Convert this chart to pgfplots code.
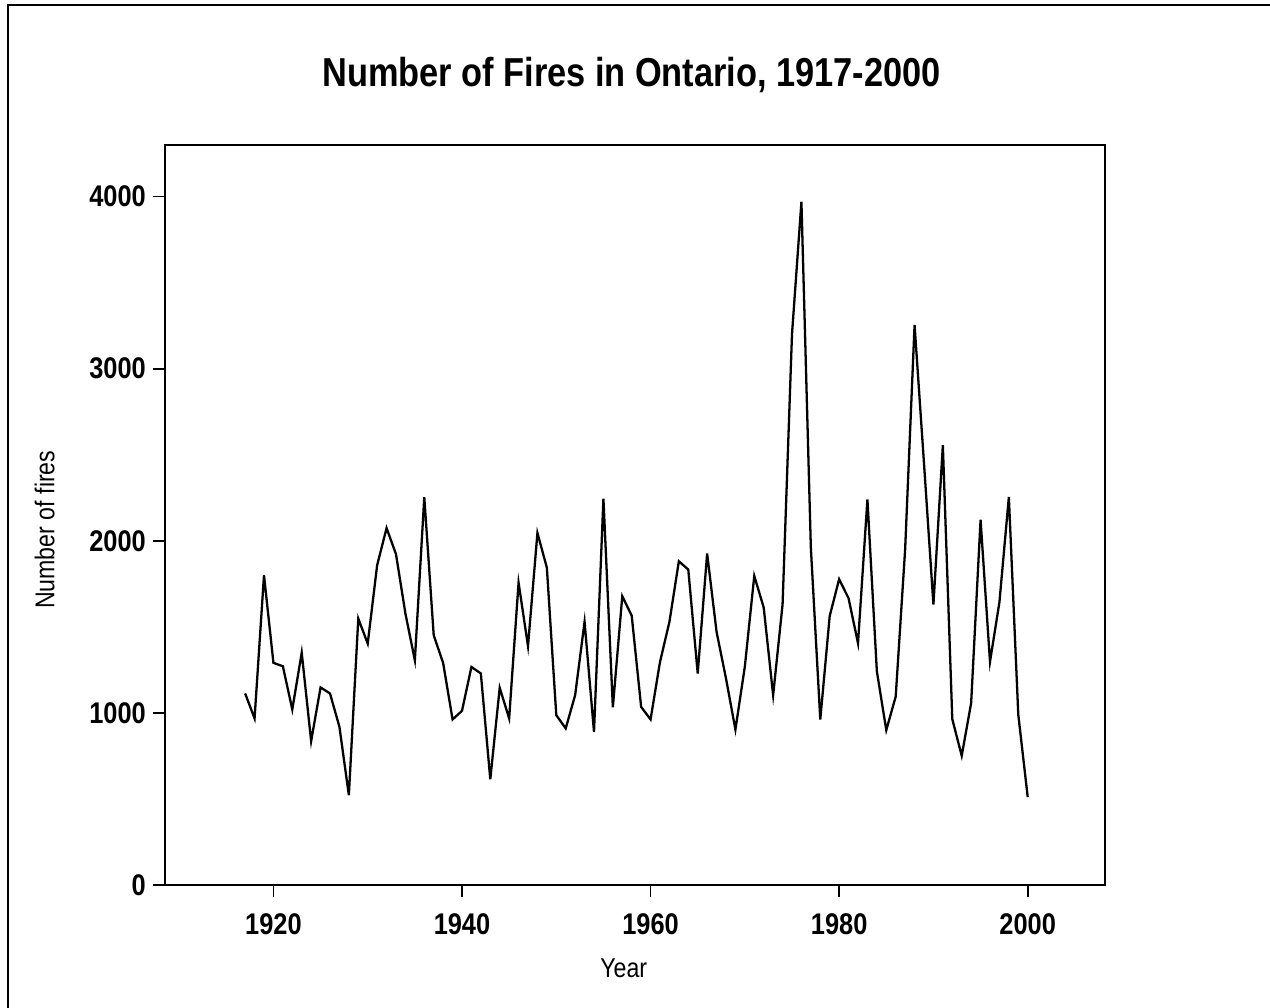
\documentclass[border=0pt]{standalone}
\usepackage{fontspec}
\setmainfont{Liberation Sans}[FakeStretch=0.85]
\usepackage{pgfplots}
\pgfplotsset{compat=1.18}

\pgfplotstableread{
year fires
1917 1113
1918 968
1919 1800
1920 1291
1921 1271
1922 1020
1923 1350
1924 836
1925 1148
1926 1113
1927 919
1928 522
1929 1548
1930 1403
1931 1858
1932 2074
1933 1922
1934 1577
1935 1306
1936 2254
1937 1451
1938 1290
1939 962
1940 1012
1941 1267
1942 1229
1943 614
1944 1146
1945 968
1946 1757
1947 1388
1948 2046
1949 1844
1950 987
1951 910
1952 1103
1953 1529
1954 890
1955 2245
1956 1032
1957 1678
1958 1565
1959 1035
1960 962
1961 1296
1962 1529
1963 1881
1964 1833
1965 1229
1966 1926
1967 1471
1968 1200
1969 903
1970 1270
1971 1796
1972 1612
1973 1103
1974 1630
1975 3200
1976 3970
1977 1960
1978 962
1979 1563
1980 1777
1981 1666
1982 1405
1983 2241
1984 1242
1985 900
1986 1095
1987 1950
1988 3255
1989 2450
1990 1630
1991 2555
1992 964
1993 751
1994 1057
1995 2122
1996 1297
1997 1643
1998 2255
1999 990
2000 511
}\fires

\begin{document}
\begin{tikzpicture}
% page = 1270 x 1008 px at 0.02 cm per px
\path[use as bounding box] (0,0) rectangle (25.4,20.16);
\draw[line width=1.2pt] (0.16,0) -- (0.16,20.06) -- (25.4,20.06);
\node[font=\bfseries\fontsize{23}{27}\selectfont] at (12.63,18.66) {Number of Fires in Ontario, 1917-2000};

\begin{axis}[
  at={(3.3cm,2.46cm)}, anchor=south west,
  width=18.8cm, height=14.8cm, scale only axis,
  xmin=1908.5, xmax=2008.2,
  ymin=0, ymax=4300,
  xtick={1920,1940,...,2000},
  ytick={0,1000,...,4000},
  axis line style={line width=1.3pt},
  tick style={black, line width=1pt},
  tick align=outside,
  major tick length=0.24cm,
  xtick pos=bottom, ytick pos=left,
  /pgf/number format/assume math mode=true,
  /pgf/number format/set thousands separator={},
  ticklabel style={font=\bfseries\fontsize{17}{19}\selectfont},
  xticklabel style={yshift=-0.2cm},
  yticklabel style={xshift=-0.02cm},
  label style={font=\fontsize{15.5}{18}\selectfont},
  xlabel={Year},
  ylabel={Number of fires},
  xlabel style={at={(axis description cs:0.488,-0.112)}, anchor=center},
  ylabel style={at={(axis description cs:-0.128,0.48)}, anchor=center},
]
\addplot[black, line width=1.3pt, mark=none] table[x=year, y=fires] {\fires};
\end{axis}
\end{tikzpicture}
\end{document}
